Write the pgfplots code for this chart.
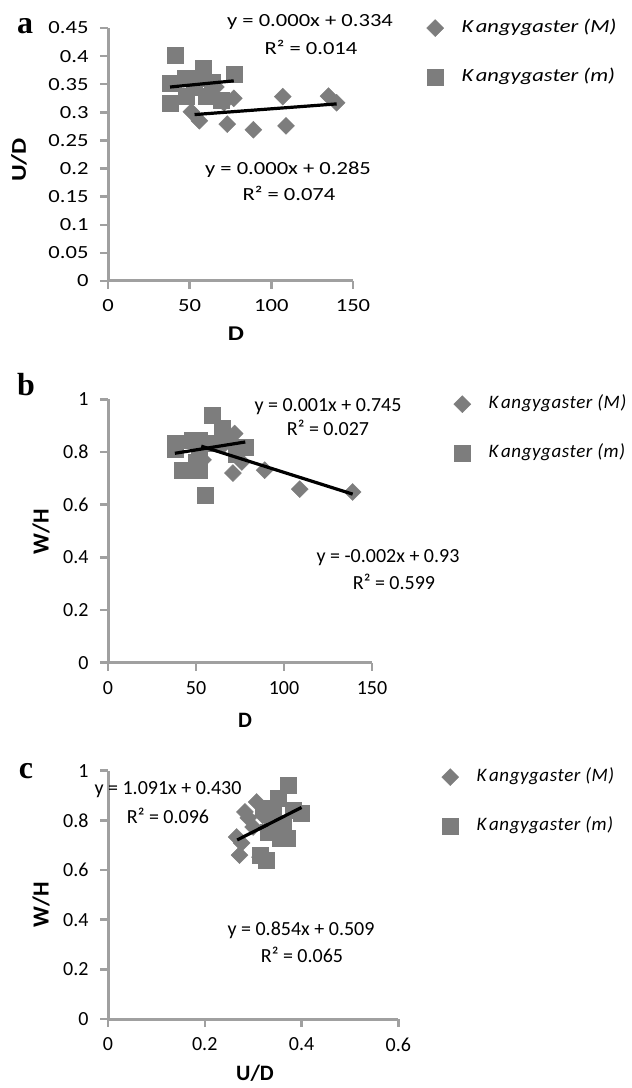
\documentclass[border=0pt]{standalone}
\usepackage{fontspec}
\setmainfont{Carlito}
\newfontfamily\afont[FakeStretch=1.22]{Carlito}
\newfontfamily\pfont{Liberation Serif}
\usepackage{pgfplots}
\pgfplotsset{compat=1.18}
\definecolor{mk}{RGB}{125,125,125}
\definecolor{ax}{RGB}{160,160,160}
\newcommand{\fa}{\afont\fontsize{18.5}{22}\selectfont}
\newcommand{\fb}{\fontsize{20}{24}\selectfont}
\newcommand{\fl}{\addfontfeatures{LetterSpace=3}\itshape\fontsize{19}{22}\selectfont}
\newcommand{\K}{K\kern2.5pt angygaster}
\pgfplotsset{
 panel/.style={
  scale only axis, axis lines*=left, clip=false, clip mode=individual,
  axis line style={draw=ax, line width=3pt},
  tick style={draw=ax, line width=2.5pt},
  major tick length=8pt, tick align=outside,
  yticklabel style={xshift=-8pt}, xticklabel style={yshift=-7pt},
  /pgf/number format/.cd, fixed, precision=2, assume math mode=true, /pgfplots/.cd,
  legend style={draw=none, fill=none, anchor=north west, legend cell align=left,
     row sep=29pt, column sep=16pt, inner sep=0pt,
     nodes={text height=12pt, text depth=4pt, inner sep=2pt}},
 },
 Mpl/.style={only marks, mark=square*, mark size=6pt, mark options={rotate=45, fill=mk, draw=mk}},
 mpl/.style={only marks, mark=square*, mark size=8pt, mark options={fill=mk, draw=mk}},
 tr/.style={black, line width=3.2pt, no marks, forget plot},
}
\begin{document}
\begin{tikzpicture}
\useasboundingbox (0pt,0pt) rectangle (632pt,1088pt);
% ---------------- panel a
\begin{axis}[panel, at={(108pt,807pt)}, anchor=south west, width=245pt, height=253pt,
  xmin=0, xmax=150, ymin=0, ymax=0.45,
  xtick={0,50,100,150}, ytick={0,0.05,0.1,0.15,0.2,0.25,0.3,0.35,0.4,0.45},
  ticklabel style={font=\fa},
  legend style={at={(1.30,1.040)}, font=\afont\itshape\fontsize{18.5}{22}\selectfont}]
\addplot[Mpl] coordinates {(51,0.301) (56,0.285) (73,0.279) (89,0.269) (109,0.276) (107,0.328) (135,0.329) (140,0.317) (77,0.325) (71,0.317) (66,0.345) (60,0.33)};
\addlegendentry{\K{} (M)}
\addplot[mpl] coordinates {(41,0.402) (38,0.317) (38,0.352) (47,0.361) (58,0.379) (77,0.367) (48,0.328) (60,0.328) (69,0.322) (64,0.354) (53,0.345) (55,0.36)};
\addlegendentry{\K{} (m)}
\addplot[tr] coordinates {(53,0.296) (140,0.315)};
\addplot[tr] coordinates {(38,0.345) (77,0.356)};
\end{axis}
% ---------------- panel b
\begin{axis}[panel, at={(108pt,425.3pt)}, anchor=south west, width=264pt, height=263.4pt,
  xmin=0, xmax=150, ymin=0, ymax=1,
  xtick={0,50,100,150}, ytick={0,0.2,0.4,0.6,0.8,1},
  ticklabel style={font=\fb},
  legend style={at={(1.309,1.020)}, font=\fl}]
\addplot[Mpl] coordinates {(72,0.87) (89,0.731) (71,0.72) (76,0.762) (54,0.77) (109,0.659) (139,0.648) (66,0.83)};
\addlegendentry{\K{} (M)}
\addplot[mpl] coordinates {(38,0.834) (38,0.81) (42,0.731) (48,0.845) (52,0.845) (52,0.731) (50,0.76) (55,0.636) (59,0.94) (65,0.89) (69,0.856) (78,0.82) (73,0.79) (60,0.833) (52,0.81)};
\addlegendentry{\K{} (m)}
\addplot[tr] coordinates {(53,0.822) (139,0.640)};
\addplot[tr] coordinates {(38,0.795) (78,0.838)};
\end{axis}
% ---------------- panel c
\begin{axis}[panel, at={(108pt,69pt)}, anchor=south west, width=290.3pt, height=248.3pt,
  xmin=0, xmax=0.6, ymin=0, ymax=1,
  xtick={0,0.2,0.4,0.6}, ytick={0,0.2,0.4,0.6,0.8,1},
  ticklabel style={font=\fb},
  legend style={at={(1.149,1.015)}, font=\fl}]
\addplot[Mpl] coordinates {(0.283,0.834) (0.307,0.874) (0.266,0.733) (0.276,0.709) (0.272,0.66) (0.30,0.773) (0.29,0.81) (0.314,0.652) (0.32,0.82)};
\addlegendentry{\K{} (M)}
\addplot[mpl] coordinates {(0.372,0.942) (0.352,0.89) (0.40,0.83) (0.383,0.84) (0.355,0.729) (0.328,0.64) (0.314,0.66) (0.331,0.753) (0.341,0.842) (0.32,0.85) (0.362,0.79) (0.37,0.73) (0.34,0.80)};
\addlegendentry{\K{} (m)}
\addplot[tr] coordinates {(0.267,0.721) (0.33,0.783)};
\addplot[tr] coordinates {(0.31,0.763) (0.40,0.852)};
\end{axis}
% ---------------- texts
\node[font=\pfont\bfseries\fontsize{32}{32}\selectfont] at (25pt,1062pt) {a};
\node[font=\pfont\bfseries\fontsize{32}{32}\selectfont] at (26pt,703pt) {b};
\node[font=\pfont\bfseries\fontsize{32}{32}\selectfont] at (26pt,317pt) {c};
\node[font=\afont\bfseries\fontsize{21}{24}\selectfont, rotate=90] at (19pt,928pt) {U/D};
\node[font=\afont\bfseries\fontsize{21}{24}\selectfont] at (236pt,754pt) {D};
\node[font=\bfseries\fontsize{23}{24}\selectfont, rotate=90] at (41pt,556pt) {W/H};
\node[font=\bfseries\fontsize{22}{24}\selectfont] at (245pt,368pt) {D};
\node[font=\bfseries\fontsize{23}{24}\selectfont, rotate=90] at (41pt,183pt) {W/H};
\node[font=\bfseries\fontsize{22}{24}\selectfont] at (255pt,15pt) {U/D};
\node[font=\fa] at (310pt,1066pt) {y = 0.000x + 0.334};
\node[font=\fa] at (311pt,1041pt) {R² = 0.014};
\node[font=\fa] at (288pt,918pt) {y = 0.000x + 0.285};
\node[font=\fa] at (289pt,895pt) {R² = 0.074};
\node[font=\fb] at (328pt,681pt) {y = 0.001x + 0.745};
\node[font=\fb] at (328pt,660pt) {R² = 0.027};
\node[font=\fb] at (388pt,530pt) {y = -0.002x + 0.93};
\node[font=\fb] at (394pt,506pt) {R² = 0.599};
\node[font=\fb] at (168pt,298pt) {y = 1.091x + 0.430};
\node[font=\fb] at (168pt,272pt) {R² = 0.096};
\node[font=\fb] at (301pt,158pt) {y = 0.854x + 0.509};
\node[font=\fb] at (302pt,133pt) {R² = 0.065};
\end{tikzpicture}
\end{document}
